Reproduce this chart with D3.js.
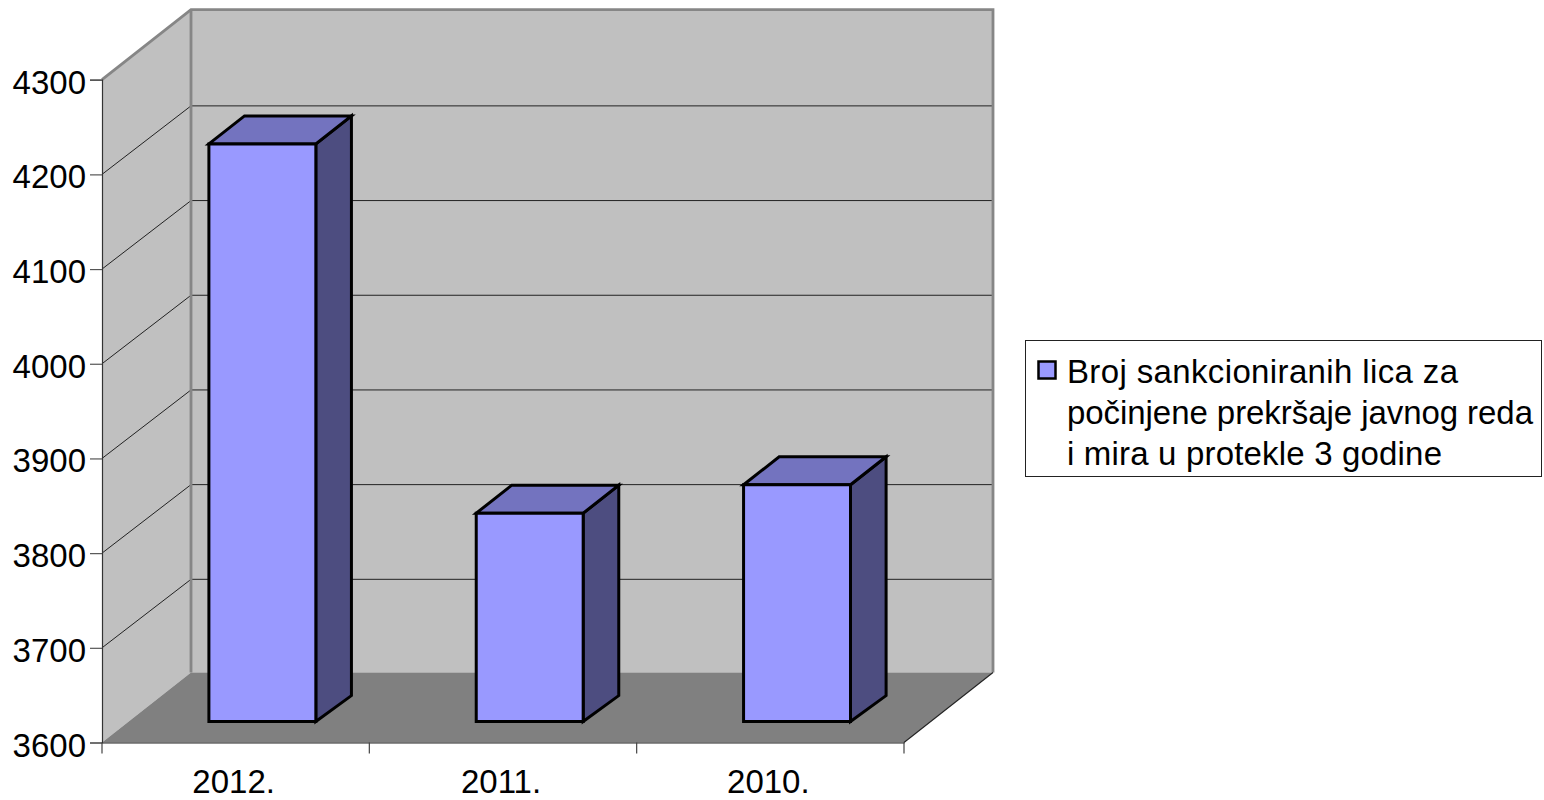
<!DOCTYPE html>
<html><head><meta charset="utf-8">
<script src="https://cdn.jsdelivr.net/npm/d3@7"></script>
<style>html,body{margin:0;background:#fff}svg{display:block}text{font-family:"Liberation Sans",Arial,sans-serif;fill:#000}</style>
</head><body><svg id="c" width="1544" height="800"></svg>
<script>
const categories = ["2012.", "2011.", "2010."];
const values = [4210, 3820, 3850];
const yTicks = [3600, 3700, 3800, 3900, 4000, 4100, 4200, 4300];
const legendLines = ["Broj sankcioniranih lica za", "počinjene prekršaje javnog reda", "i mira u protekle 3 godine"];

const svg = d3.select("#c");
const x = d3.scaleBand().domain(categories).range([102, 904]);
const y = d3.scaleLinear().domain([3600, 4300]).range([742.5, 79.7]);
const DX = 89, DY = 70, GRID_DY = 68.5;
const px = (v, d) => v + d * DX, py = (v, d) => v - d * DY;
const poly = pts => "M" + pts.map(p => p.join(",")).join("L") + "Z";
const [x0, x1] = x.range(), yb = y(3600), yt = y(4300);

// walls
svg.append("path").attr("d", poly([[x0, yb], [px(x0,1), py(yb,1)], [px(x0,1), py(yt,1)], [x0, yt]])).attr("fill", "#c0c0c0");
svg.append("path").attr("d", poly([[px(x0,1), py(yb,1)], [px(x1,1), py(yb,1)], [px(x1,1), py(yt,1)], [px(x0,1), py(yt,1)]])).attr("fill", "#c0c0c0");
svg.append("path").attr("d", poly([[x0, yb], [px(x0,1), py(yb,1)], [px(x1,1), py(yb,1)], [x1, yb]])).attr("fill", "#808080");

// gridlines
const inner = yTicks.filter(t => t > 3600 && t < 4300);
svg.append("g").selectAll("path").data(inner).join("path")
  .attr("d", t => `M${x0},${y(t)}L${px(x0,1)},${y(t) - GRID_DY}L${px(x1,1)},${y(t) - GRID_DY}`)
  .attr("fill", "none").attr("stroke", "#222").attr("stroke-width", 1);

// wall edges
svg.append("path").attr("d", `M${x0},${yt}L${px(x0,1)},${py(yt,1)}L${px(x1,1)},${py(yt,1)}L${px(x1,1)},${py(yb,1)}`)
  .attr("fill", "none").attr("stroke", "#868686").attr("stroke-width", 2.8);
svg.append("path").attr("d", `M${px(x0,1)},${py(yt,1)}L${px(x0,1)},${py(yb,1)}`)
  .attr("stroke", "#868686").attr("stroke-width", 2.8);
svg.append("path").attr("d", `M${x1},${yb}L${px(x1,1)},${py(yb,1)}`).attr("stroke", "#222").attr("stroke-width", 1.1);

// axes
const axisY = d3.axisLeft(y).tickValues(yTicks).tickSize(12).tickPadding(4).tickFormat(d3.format("d"));
const gy = svg.append("g").attr("transform", `translate(${x0},0)`).call(axisY);
gy.selectAll("text").attr("font-size", 33).attr("font-family", '"Liberation Sans"').attr("dy", "0.41em");
gy.selectAll("line").attr("stroke", "#555").attr("stroke-width", 1.2);
gy.select(".domain").attr("stroke", "#333").attr("stroke-width", 1.2);
const axisX = d3.axisBottom(x).tickSize(0).tickPadding(27);
const gx = svg.append("g").attr("transform", `translate(0,${yb})`).call(axisX);
gx.selectAll("text").attr("font-size", 33).attr("font-family", '"Liberation Sans"').attr("dx", -2);
gx.select(".domain").attr("stroke", "#222").attr("stroke-width", 1.2);
gx.selectAll(".tick line").remove();
const edges = [...categories.map(c => x(c)), x1];
svg.append("g").selectAll("line").data(edges).join("line")
  .attr("x1", d => d).attr("x2", d => d).attr("y1", yb).attr("y2", yb + 11)
  .attr("stroke", "#444").attr("stroke-width", 1.2);

// bars
const near = 0.3, far = 0.7, baseFar = 0.67, inset = 0.4 * x.bandwidth() / 2;
const bars = svg.append("g").selectAll("g").data(categories.map((c, i) => ({c, v: values[i]}))).join("g")
  .attr("stroke", "#000").attr("stroke-width", 3).attr("stroke-linejoin", "miter");
const L = d => x(d.c) + x.bandwidth() / 2 - inset, R = d => x(d.c) + x.bandwidth() / 2 + inset;
bars.append("path").attr("fill", "#4d4d80").attr("d", d => poly([
  [px(R(d),near), py(yb,near)], [px(R(d),far), py(yb,baseFar)], [px(R(d),far), py(y(d.v),far)], [px(R(d),near), py(y(d.v),near)]]));
bars.append("path").attr("fill", "#7373bf").attr("d", d => poly([
  [px(L(d),near), py(y(d.v),near)], [px(L(d),far), py(y(d.v),far)], [px(R(d),far), py(y(d.v),far)], [px(R(d),near), py(y(d.v),near)]]));
bars.append("path").attr("fill", "#9999ff").attr("d", d => poly([
  [px(L(d),near), py(yb,near)], [px(R(d),near), py(yb,near)], [px(R(d),near), py(y(d.v),near)], [px(L(d),near), py(y(d.v),near)]]));

// legend
const legendWidths = [391, 466, 375];
svg.append("rect").attr("x", 1025.5).attr("y", 340.5).attr("width", 516).attr("height", 136)
  .attr("fill", "#fff").attr("stroke", "#222").attr("stroke-width", 1);
svg.append("rect").attr("x", 1038.5).attr("y", 361.5).attr("width", 17).attr("height", 17)
  .attr("fill", "#9999ff").attr("stroke", "#000").attr("stroke-width", 2.5);
svg.append("g").selectAll("text").data(legendLines).join("text")
  .attr("x", 1067).attr("y", (d, i) => 382.5 + i * 41).attr("font-size", 33)
  .attr("textLength", (d, i) => legendWidths[i]).attr("lengthAdjust", "spacing").text(d => d);
</script></body></html>
